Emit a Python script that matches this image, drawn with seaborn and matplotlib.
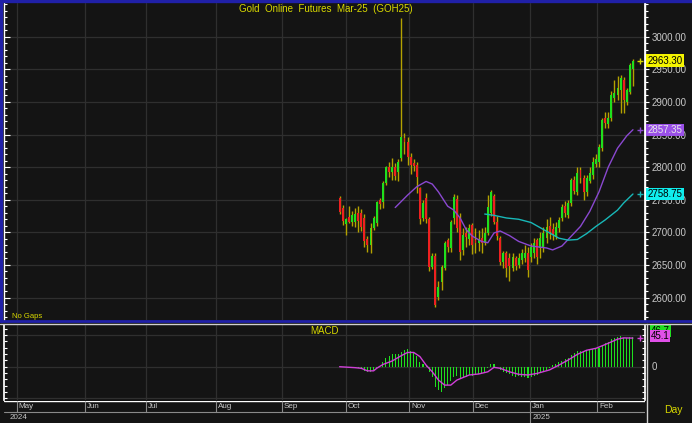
import numpy as np
import matplotlib
matplotlib.use("Agg")
import matplotlib.pyplot as plt
import matplotlib.transforms as mtransforms
from matplotlib.lines import Line2D
from matplotlib.ticker import MultipleLocator
import seaborn as sns

# --- 1. Values (daily candles, 27 Sep 2024 -> mid Feb 2025) ---
opens = [2752, 2738, 2712, 2724, 2716, 2716, 2730, 2729, 2722, 2690,
         2680, 2706, 2714, 2750, 2746, 2775, 2800, 2792, 2800, 2792,
         2814, 2844, 2838, 2815, 2806, 2803, 2768, 2722, 2752, 2720,
         2647, 2663, 2601, 2624, 2645, 2688, 2676, 2722, 2751, 2722,
         2673, 2699, 2690, 2711, 2688, 2684, 2691, 2683, 2699, 2729,
         2755, 2716, 2692, 2655, 2668, 2660, 2645, 2660, 2650, 2657,
         2660, 2668, 2662, 2668, 2688, 2676, 2677, 2692, 2710, 2705,
         2693, 2706, 2722, 2740, 2726, 2745, 2780, 2762, 2795, 2783,
         2762, 2778, 2788, 2805, 2808, 2829, 2875, 2866, 2875, 2906,
         2910, 2918, 2933, 2900, 2915, 2951]
highs = [2756, 2742, 2722, 2740, 2732, 2738, 2740, 2735, 2728, 2695,
         2714, 2725, 2748, 2752, 2778, 2802, 2808, 2814, 2806, 2812,
         3029, 2852, 2846, 2822, 2812, 2808, 2770, 2750, 2760, 2724,
         2668, 2668, 2625, 2650, 2686, 2692, 2719, 2758, 2757, 2730,
         2706, 2708, 2712, 2714, 2706, 2704, 2706, 2708, 2757, 2765,
         2758, 2725, 2695, 2672, 2672, 2668, 2668, 2664, 2668, 2675,
         2680, 2677, 2683, 2692, 2692, 2700, 2708, 2720, 2723, 2715,
         2716, 2724, 2744, 2748, 2750, 2783, 2786, 2800, 2800, 2788,
         2788, 2800, 2815, 2820, 2835, 2876, 2884, 2884, 2916, 2933,
         2940, 2941, 2938, 2922, 2960, 2966]
lows = [2728, 2711, 2696, 2714, 2710, 2708, 2700, 2702, 2678, 2670,
        2668, 2703, 2710, 2736, 2737, 2772, 2785, 2780, 2780, 2778,
        2810, 2820, 2803, 2790, 2794, 2760, 2712, 2718, 2715, 2640,
        2643, 2585, 2596, 2612, 2642, 2670, 2670, 2712, 2700, 2657,
        2665, 2677, 2680, 2666, 2668, 2672, 2668, 2680, 2696, 2725,
        2712, 2688, 2650, 2645, 2632, 2625, 2640, 2642, 2645, 2652,
        2655, 2631, 2655, 2660, 2652, 2660, 2670, 2684, 2690, 2688,
        2690, 2700, 2718, 2724, 2722, 2740, 2758, 2757, 2775, 2749,
        2755, 2775, 2781, 2800, 2800, 2825, 2860, 2860, 2870, 2900,
        2903, 2883, 2883, 2896, 2912, 2925]
closes = [2731, 2718, 2721, 2716, 2727, 2728, 2718, 2708, 2686, 2680,
          2706, 2722, 2746, 2744, 2775, 2800, 2792, 2800, 2786, 2808,
          2846, 2838, 2815, 2803, 2801, 2785, 2720, 2745, 2720, 2647,
          2663, 2588, 2616, 2647, 2684, 2678, 2716, 2754, 2706, 2670,
          2696, 2693, 2706, 2680, 2683, 2690, 2684, 2699, 2739, 2762,
          2716, 2695, 2655, 2668, 2645, 2648, 2662, 2648, 2660, 2668,
          2668, 2642, 2677, 2683, 2662, 2691, 2699, 2708, 2700, 2698,
          2708, 2719, 2739, 2730, 2745, 2780, 2764, 2791, 2783, 2762,
          2784, 2791, 2808, 2812, 2831, 2872, 2867, 2875, 2911, 2913,
          2921, 2936, 2903, 2918, 2956, 2963.3]

# moving averages (purple = faster, cyan = slower), sampled along the curve
fast_ma_idx = [18, 22, 25, 28, 30, 32, 35, 37, 39, 41, 43, 46, 48, 50, 52,
               55, 58, 62, 67, 69, 72, 74, 78, 81, 84, 87, 90, 93, 95]
fast_ma = [2738, 2757, 2770, 2778, 2774, 2762, 2740, 2734, 2722, 2704, 2694,
           2686, 2684, 2699, 2702, 2695, 2686, 2679, 2676, 2673, 2679, 2689,
           2709, 2732, 2762, 2800, 2829, 2848, 2857.35]
slow_ma_idx = [47, 50, 54, 58, 62, 65, 68, 71, 74, 77, 80, 83, 86, 90, 92, 95]
slow_ma = [2728, 2726, 2722, 2720, 2715, 2707, 2699, 2691, 2688, 2689, 2698,
           2709, 2719, 2734, 2745, 2758.75]

# MACD panel: green histogram (one bar per day) and magenta signal line
macd_hist = [0, -1, -1, -1.5, -1.5, -1.5, -2.5, -4, -7, -9,
             -8, -5, -2.5, 0.5, 8, 13, 17, 19.5, 19.5, 20.5,
             23.5, 26, 28, 24.5, 22.5, 17.5, 8, 5, 2.5, -8,
             -16, -31.5, -37, -39.5, -34, -29, -22.5, -16, -14, -18.5,
             -17.5, -16, -13, -14, -13, -12, -10.5, -8, -1.5, 5,
             3.5, -1, -5, -8, -10.5, -12, -14, -16, -15, -16,
             -16, -17.5, -16, -14, -13, -10.5, -8, -5, -2.5, 2.5,
             5, 7, 9, 12, 14, 18.5, 21, 24.5, 25.5, 24.5,
             26, 26, 28, 29, 30, 33, 37, 39.5, 43.5, 45.5,
             47, 49, 45.5, 45.5, 46.5, 46.7]
signal_idx = [0, 5, 7, 9, 11, 12, 14, 17, 20, 22, 24, 26, 28, 30, 32, 34, 36,
              38, 42, 45, 48, 50, 52, 55, 58, 61, 64, 68, 71, 74, 77, 80, 83,
              87, 90, 92, 95]
signal = [0, -1.5, -2.5, -6.5, -6.5, -2.5, 3.5, 9, 17.5, 22.5, 22.5, 16, 2.5,
          -8, -21, -29, -29, -21, -13, -11.5, -8, -1, -2.5, -8, -12, -13,
          -10.5, -5, 2.5, 10.5, 19.5, 26, 29, 37, 43.5, 45.5, 45.1]

# date axis (positions in trading-day units, first candle = 0)
months = ["May", "Jun", "Jul", "Aug", "Sep", "Oct", "Nov", "Dec", "Jan", "Feb"]
month_pos = [-104.6, -82.5, -62.8, -40.1, -18.7, 2.0, 22.6, 43.2, 61.7, 83.4]
years = ["2024", "2025"]
year_pos = [-107.6, 61.7]

price_ticks = [2600, 2650, 2700, 2750, 2800, 2850, 2900, 2950, 3000]
last_price, fast_last, slow_last = 2963.30, 2857.35, 2758.75
macd_last, signal_last = 46.7, 45.1

# --- 2. Style ---
BG = "#141414"
GRID = "#2f2f2f"
YELLOW = "#d8d800"
GREEN = "#1ee01e"
RED = "#ee2020"
WICK = "#b4a200"
PURPLE = "#8a48d0"
CYAN = "#18b8b8"
MAGENTA = "#d040d8"
BLUE = "#2020a8"
LABEL = "#c8c8c8"

sns.set_theme(style="dark", rc={"axes.facecolor": BG, "figure.facecolor": BG})
plt.rcParams["font.family"] = ["Liberation Sans", "DejaVu Sans"]

W, H = 692, 423


def rect(x0, y0, x1, y1):
    return [x0 / W, 1 - y1 / H, (x1 - x0) / W, (y1 - y0) / H]


XMIN, XMAX = -108.7, 98.9
fig = plt.figure(figsize=(W / 100, H / 100), dpi=100, facecolor=BG)

# --- 3. Price panel ---
ax = fig.add_axes(rect(4, 3, 645, 320))
ax.set_facecolor(BG)
ax.set_xlim(XMIN, XMAX)
ax.set_ylim(2565.5, 3051.7)
ax.set_xticks(month_pos)
ax.set_xticklabels([])
ax.set_yticks(price_ticks)
ax.set_yticklabels([])
ax.yaxis.set_minor_locator(MultipleLocator(10))
ax.grid(True, which="major", color=GRID, linewidth=0.9)
ax.tick_params(axis="x", length=0)
ax.tick_params(axis="y", which="both", left=True, right=False, direction="in",
               color="white", width=0.8)
ax.tick_params(axis="y", which="major", length=4)
ax.tick_params(axis="y", which="minor", length=2.5)
for side in ["top", "bottom"]:
    ax.spines[side].set_visible(False)
for side in ["left", "right"]:
    ax.spines[side].set_color("white")
    ax.spines[side].set_linewidth(1)

o = np.array(opens)
c = np.array(closes)
x = np.arange(len(c))
body_col = np.where(c >= o, GREEN, RED)
body_h = np.maximum(np.abs(c - o), 1.5)
ax.vlines(x, lows, highs, color=WICK, linewidth=1, zorder=2)
ax.bar(x, body_h, bottom=np.minimum(o, c), width=0.62, color=body_col,
       linewidth=0, zorder=3)

sns.lineplot(x=fast_ma_idx, y=fast_ma, ax=ax, color=PURPLE, linewidth=1, zorder=4)
sns.lineplot(x=slow_ma_idx, y=slow_ma, ax=ax, color=CYAN, linewidth=1, zorder=4)
ax.set_xlabel("")
ax.set_ylabel("")

# right-hand price scale
ax_r = ax.twinx()
ax_r.set_ylim(ax.get_ylim())
ax_r.set_yticks(price_ticks)
ax_r.set_yticklabels([f"{v:.2f}" for v in price_ticks])
ax_r.yaxis.set_minor_locator(MultipleLocator(10))
ax_r.grid(False)
ax_r.tick_params(axis="y", which="both", right=True, direction="out",
                 color="white", width=0.8, labelcolor=LABEL, labelsize=7, pad=1.5)
ax_r.tick_params(axis="y", which="major", length=3)
ax_r.tick_params(axis="y", which="minor", length=2)
for side in ["top", "bottom", "left"]:
    ax_r.spines[side].set_visible(False)
ax_r.spines["right"].set_color("white")

trans = mtransforms.blended_transform_factory(ax.transAxes, ax.transData)
for val, face, txt_col in [(last_price, "#f4f400", "black"),
                           (fast_last, "#9a50e8", "#e8e8e8"),
                           (slow_last, "#10eeee", "black")]:
    ax_r.text(1.004, val, f"{val:.2f}", transform=trans, ha="left", va="center",
              fontsize=7, color=txt_col, zorder=10,
              bbox=dict(boxstyle="square,pad=0.12", fc=face, ec="none"))
for val, col in [(last_price, YELLOW), (fast_last, PURPLE), (slow_last, CYAN)]:
    ax.plot([97.3], [val], marker="+", color=col, markersize=4, mew=1,
            clip_on=False, zorder=6)

fig.text(326 / W, 1 - 9 / H, "Gold  Online  Futures  Mar-25  (GOH25)",
         color=YELLOW, fontsize=7, ha="center", va="center")
fig.text(12 / W, 1 - 316 / H, "No Gaps", color=YELLOW, fontsize=5.5,
         ha="left", va="center")

# --- 4. MACD panel ---
ax_m = fig.add_axes(rect(4, 325, 645, 400))
ax_m.set_facecolor(BG)
ax_m.set_xlim(XMIN, XMAX)
ax_m.set_ylim(-52.5, 65.8)
ax_m.set_xticks(month_pos)
ax_m.set_xticklabels([])
ax_m.set_yticks([-50, 0, 50])
ax_m.set_yticklabels([])
ax_m.yaxis.set_minor_locator(MultipleLocator(10))
ax_m.grid(True, which="major", color=GRID, linewidth=0.9)
ax_m.tick_params(axis="x", length=0)
ax_m.tick_params(axis="y", which="both", left=True, right=True, direction="in",
                 color="white", width=0.8, length=2.5)
for side in ["top", "bottom"]:
    ax_m.spines[side].set_visible(False)
for side in ["left", "right"]:
    ax_m.spines[side].set_color("white")

ax_m.bar(np.arange(len(macd_hist)), macd_hist, width=0.34, color=GREEN,
         linewidth=0, zorder=3)
sns.lineplot(x=signal_idx, y=signal, ax=ax_m, color=MAGENTA, linewidth=1, zorder=4)
ax_m.set_xlabel("")
ax_m.set_ylabel("")
ax_m.plot([97.3], [signal_last], marker="+", color=MAGENTA, markersize=4, mew=1,
          clip_on=False, zorder=6)

trans_m = mtransforms.blended_transform_factory(ax_m.transAxes, ax_m.transData)
ax_m.text(0.5, 57, "MACD", transform=trans_m, color=YELLOW, fontsize=7,
          ha="center", va="center")
ax_m.text(1.01, 0, "0", transform=trans_m, color=LABEL, fontsize=7,
          ha="left", va="center")
ax_m.text(1.009, 56, f"{macd_last:.1f}", transform=trans_m, color="black",
          fontsize=7, ha="left", va="center",
          bbox=dict(boxstyle="square,pad=0.1", fc="#20e020", ec="none"))
ax_m.text(1.009, 48, f"{signal_last:.1f}", transform=trans_m, color="black",
          fontsize=7, ha="left", va="center",
          bbox=dict(boxstyle="square,pad=0.1", fc="#e050e8", ec="none"))

# --- 5. Date axis ---
ax_d = fig.add_axes(rect(4, 401, 645, 423))
ax_d.set_facecolor(BG)
ax_d.set_xlim(XMIN, XMAX)
ax_d.set_ylim(0, 1)
ax_d.axis("off")
ax_d.axhline(0.99, color="white", linewidth=1)
ax_d.axhline(0.52, color="#8a8a8a", linewidth=0.8)
ax_d.vlines(month_pos, 0.52, 1, color="#8a8a8a", linewidth=0.8)
for m, p in zip(months, month_pos):
    ax_d.text(p + 0.6, 0.75, m, color=LABEL, fontsize=5.8, ha="left", va="center")
ax_d.vlines(year_pos[1:], 0, 0.52, color="#8a8a8a", linewidth=0.8)
for yr, p in zip(years, year_pos):
    ax_d.text(p + 0.8, 0.25, yr, color=LABEL, fontsize=5.8, ha="left", va="center")

fig.text(673 / W, 1 - 410 / H, "Day", color=YELLOW, fontsize=7.5,
         ha="center", va="center")

# --- 6. Frame lines ---
fig.add_artist(Line2D([0, 1], [1 - 1.2 / H] * 2, color=BLUE, linewidth=2.4,
                      transform=fig.transFigure))
fig.add_artist(Line2D([1.2 / W] * 2, [1 - 321 / H, 1], color=BLUE, linewidth=2.4,
                      transform=fig.transFigure))
fig.add_artist(Line2D([0, 1], [1 - 321 / H] * 2, color=BLUE, linewidth=2,
                      transform=fig.transFigure))
fig.add_artist(Line2D([0, 1], [1 - 323.5 / H] * 2, color="#d0d0d0", linewidth=1,
                      transform=fig.transFigure))
fig.add_artist(Line2D([647 / W] * 2, [0, 1 - 323.5 / H], color="#d0d0d0",
                      linewidth=1, transform=fig.transFigure))

fig.savefig("out.png", dpi=100, facecolor=BG)
